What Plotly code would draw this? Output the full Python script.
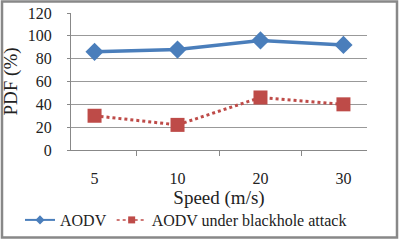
import plotly.graph_objects as go

categories = ["5", "10", "20", "30"]
aodv = [86, 88, 96, 92]
aodv_blackhole = [30, 22, 46, 40]
y_ticks = [0, 20, 40, 60, 80, 100, 120]

FONT = "'Liberation Serif', 'Times New Roman', 'DejaVu Serif', serif"
BLUE = "#4a7ebb"
RED = "#be4b48"

fig = go.Figure()
fig.add_trace(go.Scatter(
    x=categories, y=aodv, name="AODV", mode="lines+markers", showlegend=False,
    line=dict(color=BLUE, width=3.5),
    marker=dict(symbol="diamond", size=14, color=BLUE),
))
fig.add_trace(go.Scatter(
    x=categories, y=aodv_blackhole, name="AODV under blackhole attack",
    mode="lines+markers", showlegend=False,
    line=dict(color=RED, width=3, dash="dot"),
    marker=dict(symbol="square", size=14, color=RED),
))
# legend entries (small symbols, as in the reference legend)
fig.add_trace(go.Scatter(
    x=[None], y=[None], name="AODV", mode="lines+markers",
    line=dict(color=BLUE, width=2), marker=dict(symbol="diamond", size=7, color=BLUE),
))
fig.add_trace(go.Scatter(
    x=[None], y=[None], name="AODV under blackhole attack", mode="lines+markers",
    line=dict(color=RED, width=1.5, dash="dot"), marker=dict(symbol="square", size=7, color=RED),
))

fig.update_layout(
    width=400, height=240,
    margin=dict(l=71, r=33, t=13, b=90, autoexpand=False),
    paper_bgcolor="white", plot_bgcolor="white",
    font=dict(family=FONT, size=16, color="#222"),
    showlegend=True,
    legend=dict(orientation="h", xref="paper", x=(20 - 71) / 296, xanchor="left",
                yref="paper", y=(150 - 220) / 137, yanchor="middle",
                font=dict(family=FONT, size=16), tracegroupgap=0,
                bgcolor="rgba(0,0,0,0)"),
    xaxis=dict(type="category", showgrid=False, showline=True, linecolor="#888",
               ticks="outside", tickson="boundaries", ticklen=5, tickcolor="#888",
               tickfont=dict(family=FONT, color="#222"), ticklabelstandoff=14,
               title=dict(text="Speed (m/s)", standoff=0, font=dict(family=FONT))),
    yaxis=dict(range=[0, 120], tickvals=y_ticks, showgrid=True, gridcolor="#999",
               gridwidth=1, showline=True, linecolor="#888", ticks="outside",
               ticklen=3, tickcolor="#888", zeroline=False,
               tickfont=dict(family=FONT, color="#222"), ticklabelstandoff=12,
               title=dict(text="PDF (%)", standoff=6, font=dict(family=FONT))),
)
fig.add_shape(type="rect", xref="paper", yref="paper",
              x0=(2 - 71) / 296, x1=(397 - 71) / 296,
              y0=(150 - 237.5) / 137, y1=(150 - 1.5) / 137,
              line=dict(color="#888", width=2.5))

fig.write_html("out.html", config={"displayModeBar": False},
               post_script="document.body.style.margin='0';")
